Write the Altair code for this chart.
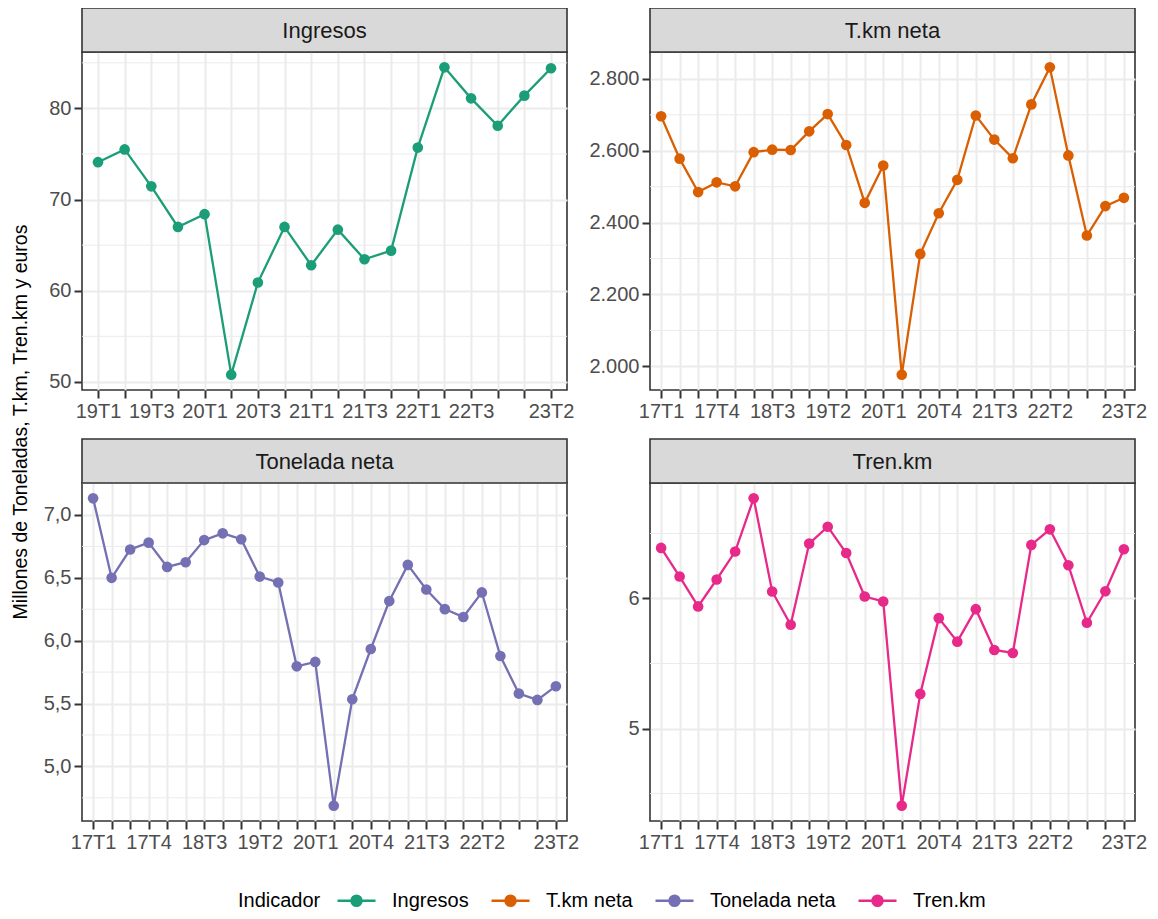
import altair as alt
import pandas as pd

# ---------------- data ----------------
periods_ingresos = ["19T1", "19T2", "19T3", "19T4", "20T1", "20T2", "20T3", "20T4",
                    "21T1", "21T2", "21T3", "21T4", "22T1", "22T2", "22T3", "22T4",
                    "23T1", "23T2"]
periods_all = ["17T1", "17T2", "17T3", "17T4", "18T1", "18T2", "18T3", "18T4",
               "19T1", "19T2", "19T3", "19T4", "20T1", "20T2", "20T3", "20T4",
               "21T1", "21T2", "21T3", "21T4", "22T1", "22T2", "22T3", "22T4",
               "23T1", "23T2"]

ingresos = [74.1, 75.5, 71.45, 67.0, 68.4, 50.8, 60.9, 67.0, 62.8, 66.7, 63.45, 64.4,
            75.7, 84.5, 81.1, 78.1, 81.4, 84.4]
tkm_neta = [2696, 2578, 2485, 2512, 2501, 2596, 2603, 2602, 2654, 2702, 2616, 2455, 2559,
            1977, 2313, 2426, 2519, 2698, 2631, 2579, 2729, 2832, 2587, 2364, 2446, 2469]
tonelada_neta = [7.132, 6.50, 6.725, 6.78, 6.587, 6.624, 6.80, 6.854, 6.807, 6.51, 6.463,
                 5.796, 5.831, 4.688, 5.534, 5.934, 6.315, 6.603, 6.407, 6.251, 6.188,
                 6.384, 5.878, 5.579, 5.529, 5.638]
tren_km = [6.389, 6.169, 5.939, 6.146, 6.361, 6.770, 6.054, 5.798, 6.422, 6.552, 6.350,
           6.015, 5.977, 4.407, 5.266, 5.849, 5.668, 5.918, 5.604, 5.581, 6.412, 6.532,
           6.256, 5.813, 6.056, 6.379]

indicadores = ["Ingresos", "T.km neta", "Tonelada neta", "Tren.km"]
colores = ["#1B9E77", "#D95F02", "#7570B3", "#E7298A"]

labels_ingresos = ["19T1", "19T3", "20T1", "20T3", "21T1", "21T3", "22T1", "22T3", "23T2"]
labels_all = ["17T1", "17T4", "18T3", "19T2", "20T1", "20T4", "21T3", "22T2", "23T2"]

major_ingresos = [50, 60, 70, 80]
minor_ingresos = [55, 65, 75, 85]
major_tkm = [2000, 2200, 2400, 2600, 2800]
minor_tkm = [2100, 2300, 2500, 2700]
major_ton = [5.0, 5.5, 6.0, 6.5, 7.0]
minor_ton = [4.75, 5.25, 5.75, 6.25, 6.75, 7.25]
major_tren = [5, 6]
minor_tren = [4.5, 5.5, 6.5]

y_title = "Millones de Toneladas, T.km, Tren.km y euros"

# ---------------- layout ----------------
PW, PH = 485, 338      # plot area of each panel
SH = 44                # strip height
ROW_GAP = 49           # gap between bottom of row 1 and top of row-2 strips
FONT = "Liberation Sans"

# legend key: horizontal line + filled dot (drawn as concentric rings)
ring_path = "M-1,0L1,0"
for r in [0.04, 0.1, 0.16, 0.22, 0.27]:
    ring_path += f"M{r},0A{r},{r},0,1,1,{-r},0A{r},{r},0,1,1,{r},0"

legend = alt.Legend(
    orient="none", legendX=156, legendY=828, direction="horizontal",
    titleOrient="left", titleBaseline="line-top", titleLineHeight=12,
    titleFontSize=20, titleFontWeight="normal", titleColor="black",
    titleFont=FONT, labelFont=FONT, labelFontSize=20, labelColor="black",
    symbolType=ring_path, symbolSize=1444, symbolStrokeWidth=2.3,
    labelOffset=15, columnPadding=17, titlePadding=15, padding=0,
)
color_scale = alt.Scale(domain=indicadores, range=colores)


def panel(name, periods, values, color, majors, minors, shown, y_label_expr, with_title=False):
    df = pd.DataFrame({"Periodo": periods, "Valor": values, "Indicador": name})
    lo, hi = min(values), max(values)
    ext = (hi - lo) * 0.05
    yscale = alt.Scale(domain=[lo - ext, hi + ext], nice=False, zero=False)
    xscale = alt.Scale(type="point", padding=0.6, domain=periods)
    shown_js = "[" + ",".join(f"'{s}'" for s in shown) + "]"
    xaxis = alt.Axis(title=None, grid=True,
                     labelExpr=f"indexof({shown_js}, datum.value) >= 0 ? datum.value : ''",
                     labelAngle=0, labelOverlap=False, labelPadding=3)
    yaxis = alt.Axis(title=None, grid=True, values=majors, labelExpr=y_label_expr,
                     labelPadding=3)

    minor = alt.Chart(pd.DataFrame({"m": minors})).mark_rule(
        color="#EBEBEB", strokeWidth=1
    ).encode(y=alt.Y("m:Q", scale=yscale, axis=yaxis))

    base = alt.Chart(df)
    line = base.mark_line(strokeWidth=2.3).encode(
        x=alt.X("Periodo:N", scale=xscale, axis=xaxis, sort=periods),
        y=alt.Y("Valor:Q", scale=yscale, axis=yaxis),
        color=alt.Color("Indicador:N", scale=color_scale, legend=legend, title="Indicador"),
    )
    pts = base.mark_circle(size=113, opacity=1, color=color).encode(
        x=alt.X("Periodo:N", scale=xscale, axis=xaxis, sort=periods),
        y=alt.Y("Valor:Q", scale=yscale, axis=yaxis),
    )

    sdf = pd.DataFrame({"t": [name]})
    strip_bg = alt.Chart(sdf).mark_rect(
        fill="#D9D9D9", stroke="#333333", strokeWidth=1.6
    ).encode(x=alt.value(0), x2=alt.value(PW), y=alt.value(-SH), y2=alt.value(0))
    strip_txt = alt.Chart(sdf).mark_text(
        fontSize=22, color="#1A1A1A", font=FONT, align="center", baseline="middle"
    ).encode(text="t:N", x=alt.value(PW / 2), y=alt.value(-SH / 2 + 1))

    layers = [minor, line, pts, strip_bg, strip_txt]
    if with_title:
        ttl = alt.Chart(pd.DataFrame({"t": [y_title]})).mark_text(
            angle=270, fontSize=19.5, color="black", font=FONT, align="center", baseline="middle"
        ).encode(text="t:N", x=alt.value(-61), y=alt.value(370))
        layers.append(ttl)
    return alt.layer(*layers).properties(width=PW, height=PH)


fmt_int = "format(datum.value, 'd')"
fmt_thousands = "replace(format(datum.value, ',.0f'), ',', '.')"
fmt_dec = "replace(format(datum.value, '.1f'), '.', ',')"

p1 = panel("Ingresos", periods_ingresos, ingresos, colores[0], major_ingresos, minor_ingresos,
           labels_ingresos, fmt_int, with_title=True)
p2 = panel("T.km neta", periods_all, tkm_neta, colores[1], major_tkm, minor_tkm,
           labels_all, fmt_thousands)
p3 = panel("Tonelada neta", periods_all, tonelada_neta, colores[2], major_ton, minor_ton,
           labels_all, fmt_dec)
p4 = panel("Tren.km", periods_all, tren_km, colores[3], major_tren, minor_tren,
           labels_all, fmt_int)

chart = alt.concat(
    p1, p2, p3, p4, columns=2,
    spacing={"row": SH + ROW_GAP, "column": 83}, bounds="flush",
).resolve_scale(x="independent", y="independent").properties(
    padding={"left": 2, "top": -2, "right": 0, "bottom": 0}
).configure(font=FONT).configure_view(
    stroke="#333333", strokeWidth=1.6
).configure_axis(
    labelColor="#4D4D4D", labelFontSize=20, labelFont=FONT,
    tickColor="#333333", tickWidth=2, tickSize=8,
    gridColor="#EBEBEB", gridWidth=2, domain=False,
)

chart.save("out.html", embed_options={"renderer": "svg", "actions": False})
